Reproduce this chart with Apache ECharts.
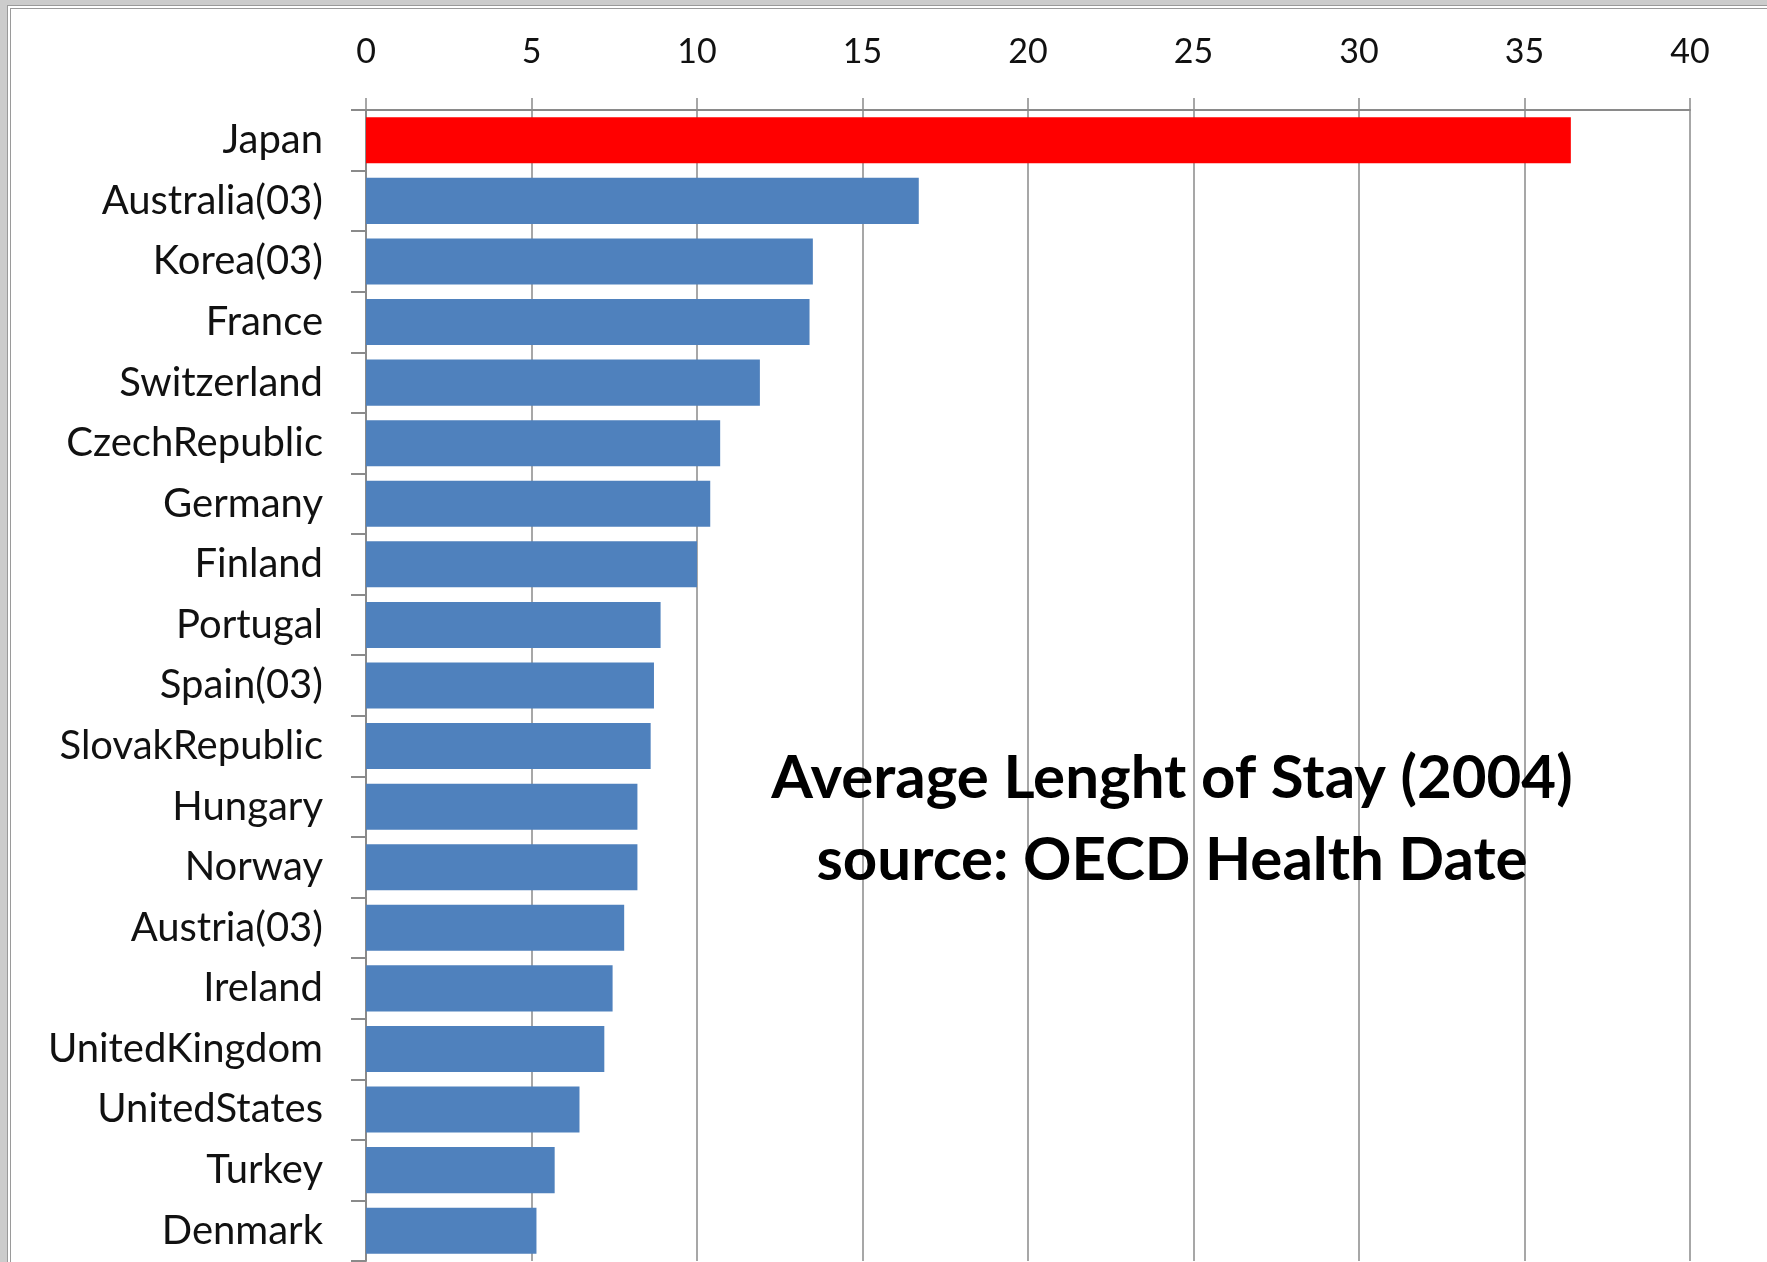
<!DOCTYPE html>
<html>
<head>
<meta charset="utf-8">
<script src="https://cdn.jsdelivr.net/npm/echarts@6/dist/echarts.min.js"></script>
<style>
  html, body { margin: 0; padding: 0; width: 1767px; height: 1262px; background: #cccccc; overflow: hidden; }
  #frame { position: absolute; left: 7px; top: 5px; width: 1770px; height: 1270px; border-top: 4px double #9a9a9a; border-left: 4px double #9a9a9a; background: #ffffff; }
  #chart { position: absolute; left: 11px; top: 9px; width: 1756px; height: 1253px; }
</style>
</head>
<body>
<div id="frame"></div>
<div id="chart"></div>
<script>
const categories = ["Japan", "Australia(03)", "Korea(03)", "France", "Switzerland", "CzechRepublic",
  "Germany", "Finland", "Portugal", "Spain(03)", "SlovakRepublic", "Hungary", "Norway",
  "Austria(03)", "Ireland", "UnitedKingdom", "UnitedStates", "Turkey", "Denmark"];
const values = [36.4, 16.7, 13.5, 13.4, 11.9, 10.7, 10.4, 10.0, 8.9, 8.7, 8.6, 8.2, 8.2,
  7.8, 7.45, 7.2, 6.45, 5.7, 5.15];
const highlight = "Japan";
const xTicks = [0, 5, 10, 15, 20, 25, 30, 35, 40];
const annotation = ["Average Lenght of Stay (2004)", "source: OECD Health Date"];

const chart = echarts.init(document.getElementById('chart'), null, { renderer: 'canvas' });
const gray = '#8a8a8a';
chart.setOption({
  animation: false,
  backgroundColor: '#ffffff',
  title: {
    text: annotation.join('\n'),
    left: 1156,
    top: 724,
    textAlign: 'center',
    textStyle: { fontFamily: 'Lato', fontWeight: 'bold', fontSize: 60, lineHeight: 82, color: '#000000' }
  },
  grid: { left: 355, top: 101, right: 77, bottom: 1, containLabel: false },
  xAxis: {
    type: 'value',
    position: 'top',
    min: xTicks[0],
    max: xTicks[xTicks.length - 1],
    interval: 5,
    axisLine: { show: true, lineStyle: { color: gray, width: 2 } },
    axisTick: { show: true, length: 12, lineStyle: { color: gray, width: 1.5 } },
    axisLabel: { margin: 41, fontFamily: 'Lato', fontSize: 34, color: '#111111' },
    splitLine: { show: true, lineStyle: { color: gray, width: 1.5 } }
  },
  yAxis: {
    type: 'category',
    data: categories,
    inverse: true,
    axisLine: { show: true, lineStyle: { color: gray, width: 2 } },
    axisTick: { show: true, length: 15, lineStyle: { color: gray, width: 2 } },
    axisLabel: { margin: 43, fontFamily: 'Lato', fontSize: 40, color: '#111111' },
    splitLine: { show: false }
  },
  series: [{
    type: 'bar',
    barCategoryGap: '24%',
    data: values.map((v, i) => ({
      value: v,
      itemStyle: { color: categories[i] === highlight ? '#ff0000' : '#4f81bd' }
    }))
  }]
});
</script>
</body>
</html>
